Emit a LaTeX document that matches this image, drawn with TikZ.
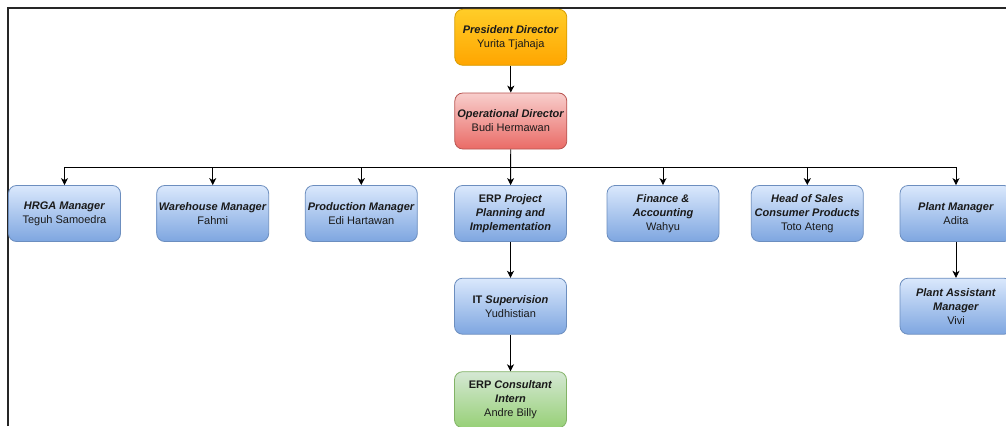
\documentclass[tikz,border=0pt]{standalone}
\usepackage{fontspec}
\setmainfont{Liberation Sans}
\usetikzlibrary{arrows.meta}
\definecolor{orgA}{HTML}{FFCD28}\definecolor{orgB}{HTML}{FFA500}\definecolor{orgS}{HTML}{D79B00}
\definecolor{redA}{HTML}{F8CECC}\definecolor{redB}{HTML}{EA6B66}\definecolor{redS}{HTML}{B85450}
\definecolor{bluA}{HTML}{DAE8FC}\definecolor{bluB}{HTML}{7EA6E0}\definecolor{bluS}{HTML}{6C8EBF}
\definecolor{grnA}{HTML}{D5E8D4}\definecolor{grnB}{HTML}{97D077}\definecolor{grnS}{HTML}{82B366}
\definecolor{txt}{HTML}{1A1A1A}
\newcommand{\bi}[1]{\textbf{\textit{#1}}}
\begin{document}
\begin{tikzpicture}[x=1pt,y=-1pt,
  box/.style={rounded corners=8pt, minimum width=112pt, minimum height=56pt, align=center,
    inner sep=1pt, line width=0.8pt, text=txt, font=\fontsize{11}{14}\selectfont},
  orangebox/.style={box, draw=orgS, top color=orgA, bottom color=orgB},
  redbox/.style={box, draw=redS, top color=redA, bottom color=redB},
  bluebox/.style={box, draw=bluS, top color=bluA, bottom color=bluB},
  greenbox/.style={box, draw=grnS, top color=grnA, bottom color=grnB},
  arr/.style={draw=black, line width=0.9pt, -{Stealth[length=7pt,width=7pt,inset=2pt]}},
  link/.style={draw=black, line width=0.9pt}]
\useasboundingbox (0,0) rectangle (1006,426);
\fill[white] (0,0) rectangle (1006,426);
\draw[line width=1.3pt, black!85] (8,426) -- (8,8) -- (1006,8);

\node[orangebox] (pres) at (510.8,37.3) {\bi{President Director}\\Yurita Tjahaja};
\node[redbox] (op) at (510.8,121) {\bi{Operational Director}\\Budi Hermawan};

\node[bluebox] (hrga) at (64.5,213.5) {\bi{HRGA Manager}\\Teguh Samoedra};
\node[bluebox] (wh) at (212.7,213.5) {\bi{Warehouse Manager}\\Fahmi};
\node[bluebox] (prod) at (361.3,213.5) {\bi{Production Manager}\\Edi Hartawan};
\node[bluebox] (erp) at (510.5,213.5) {\textbf{ERP \textit{Project}}\\\bi{Planning and}\\\bi{Implementation}};
\node[bluebox] (fin) at (663,213.5) {\bi{Finance \&}\\\bi{Accounting}\\Wahyu};
\node[bluebox] (sales) at (807.3,213.5) {\bi{Head of Sales}\\\bi{Consumer Products}\\Toto Ateng};
\node[bluebox] (plant) at (956,213.5) {\bi{Plant Manager}\\Adita};

\node[bluebox] (it) at (510.5,306.2) {\textbf{IT \textit{Supervision}}\\Yudhistian};
\node[greenbox] (cons) at (510.5,399.7) {\textbf{ERP \textit{Consultant}}\\\bi{Intern}\\Andre Billy};
\node[bluebox] (pam) at (956,306.2) {\bi{Plant Assistant}\\\bi{Manager}\\Vivi};

\coordinate (bus) at (510.5,167.5);

\draw[arr] (pres) -- (op);
\draw[arr] (op) -- (erp);
\draw[arr] (bus) -| (hrga.north);
\draw[arr] (bus) -| (wh.north);
\draw[arr] (bus) -| (prod.north);
\draw[arr] (bus) -| (fin.north);
\draw[arr] (bus) -| (sales.north);
\draw[arr] (bus) -| (plant.north);
\draw[arr] (erp) -- (it);
\draw[arr] (it) -- (cons);
\draw[arr] (plant) -- (pam);
\end{tikzpicture}
\end{document}
